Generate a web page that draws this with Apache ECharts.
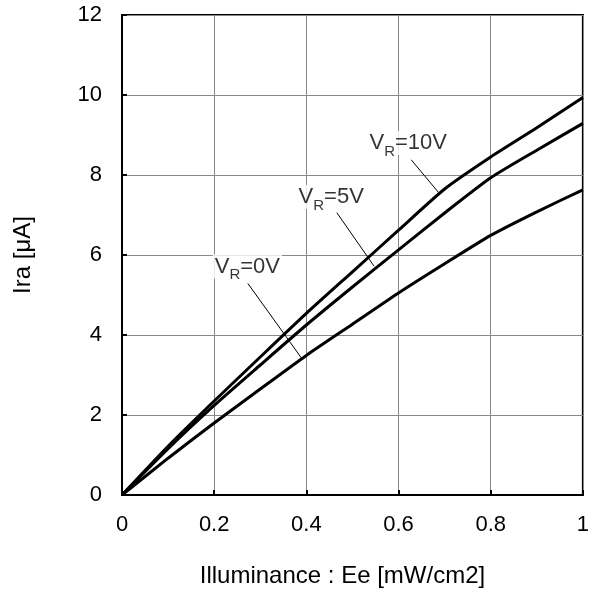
<!DOCTYPE html>
<html><head><meta charset="utf-8">
<script src="https://cdn.jsdelivr.net/npm/echarts@6/dist/echarts.min.js"></script>
<style>html,body{margin:0;padding:0;background:#fff}#c{width:592px;height:593px}</style>
</head><body><div id="c"></div>
<script>
var xValues = [0, 0.1, 0.2, 0.3, 0.4, 0.5, 0.6, 0.7, 0.8, 0.9, 1.0];
var vr10 = [0, 1.22, 2.35, 3.45, 4.54, 5.58, 6.62, 7.65, 8.45, 9.18, 9.94];
var vr5  = [0, 1.16, 2.24, 3.25, 4.25, 5.2, 6.13, 7.05, 7.93, 8.62, 9.29];
var vr0  = [0, 0.92, 1.8, 2.65, 3.49, 4.27, 5.05, 5.78, 6.49, 7.08, 7.63];
var seriesNames = ['10V', '5V', '0V'];
var xTicks = [0, 0.2, 0.4, 0.6, 0.8, 1];
var yTicks = [0, 2, 4, 6, 8, 10, 12];

var FONT = "'Liberation Sans', Arial, sans-serif";
function pairs(ys){ return xValues.map(function(x,i){ return [x, ys[i]]; }); }

var labelPos = [[0.621, 8.80], [0.454, 7.45], [0.272, 5.71]];
var leaders = [
  [[0.6276, 8.38], [0.687, 7.56]],
  [[0.466, 7.06], [0.547, 5.72]],
  [[0.273, 5.29], [0.389, 3.43]]
];

var rich = {
  v: {fontSize: 22, fontFamily: FONT, color: '#000', lineHeight: 22, verticalAlign: 'top'},
  s: {fontSize: 15, fontFamily: FONT, color: '#000', lineHeight: 15, verticalAlign: 'top', padding: [12, 0, 0, 0]}
};

var lineSeries = [vr10, vr5, vr0].map(function(d, i){
  return {
    type: 'line', name: seriesNames[i], data: pairs(d), smooth: 0.2, showSymbol: false,
    lineStyle: {color: '#000', width: 3}, z: 5, silent: true,
    markLine: {
      silent: true, symbol: ['none', 'none'], label: {show: false},
      lineStyle: {color: '#000', width: 1, type: 'solid'},
      data: [[{coord: leaders[i][0]}, {coord: leaders[i][1]}]]
    }
  };
});

var labelSeries = {
  type: 'scatter', symbolSize: 0, silent: true, z: 4,
  data: labelPos.map(function(p, i){
    return {
      value: p,
      label: {
        show: true, position: 'inside', color: '#000',
        formatter: '{v|V}{s|R}{v|=' + seriesNames[i] + '}',
        rich: rich, backgroundColor: '#fff', padding: [1, 2]
      }
    };
  })
};

var chart = echarts.init(document.getElementById('c'), null, {renderer: 'canvas'});
chart.setOption({
  animation: false,
  backgroundColor: '#fff',
  grid: {left: 122, top: 15, width: 465, height: 481, show: true, borderColor: '#000', borderWidth: 2, backgroundColor: 'transparent'},
  xAxis: {
    type: 'value', min: xTicks[0], max: xTicks[xTicks.length-1], interval: 0.2,
    name: 'Illuminance : Ee [mW/cm2]', nameLocation: 'middle', nameGap: 69,
    nameTextStyle: {fontSize: 24, fontFamily: FONT, color: '#000', padding: [0, 20, 0, 0]},
    axisLine: {show: true, lineStyle: {color: '#000', width: 2}},
    axisTick: {show: true, inside: true, length: 5, lineStyle: {color: '#000', width: 2}},
    axisLabel: {fontSize: 22, fontFamily: FONT, color: '#000', margin: 19},
    splitLine: {show: true, lineStyle: {color: '#888', width: 1}}
  },
  yAxis: {
    type: 'value', min: yTicks[0], max: yTicks[yTicks.length-1], interval: 2,
    name: 'Ira [\u03bcA]', nameLocation: 'middle', nameGap: 87,
    nameTextStyle: {fontSize: 24, fontFamily: FONT, color: '#000'},
    axisLine: {show: true, lineStyle: {color: '#000', width: 2}},
    axisTick: {show: true, inside: true, length: 5, lineStyle: {color: '#000', width: 2}},
    axisLabel: {fontSize: 22, fontFamily: FONT, color: '#000', margin: 20},
    splitLine: {show: true, lineStyle: {color: '#888', width: 1}}
  },
  series: lineSeries.concat([labelSeries])
});
</script></body></html>
